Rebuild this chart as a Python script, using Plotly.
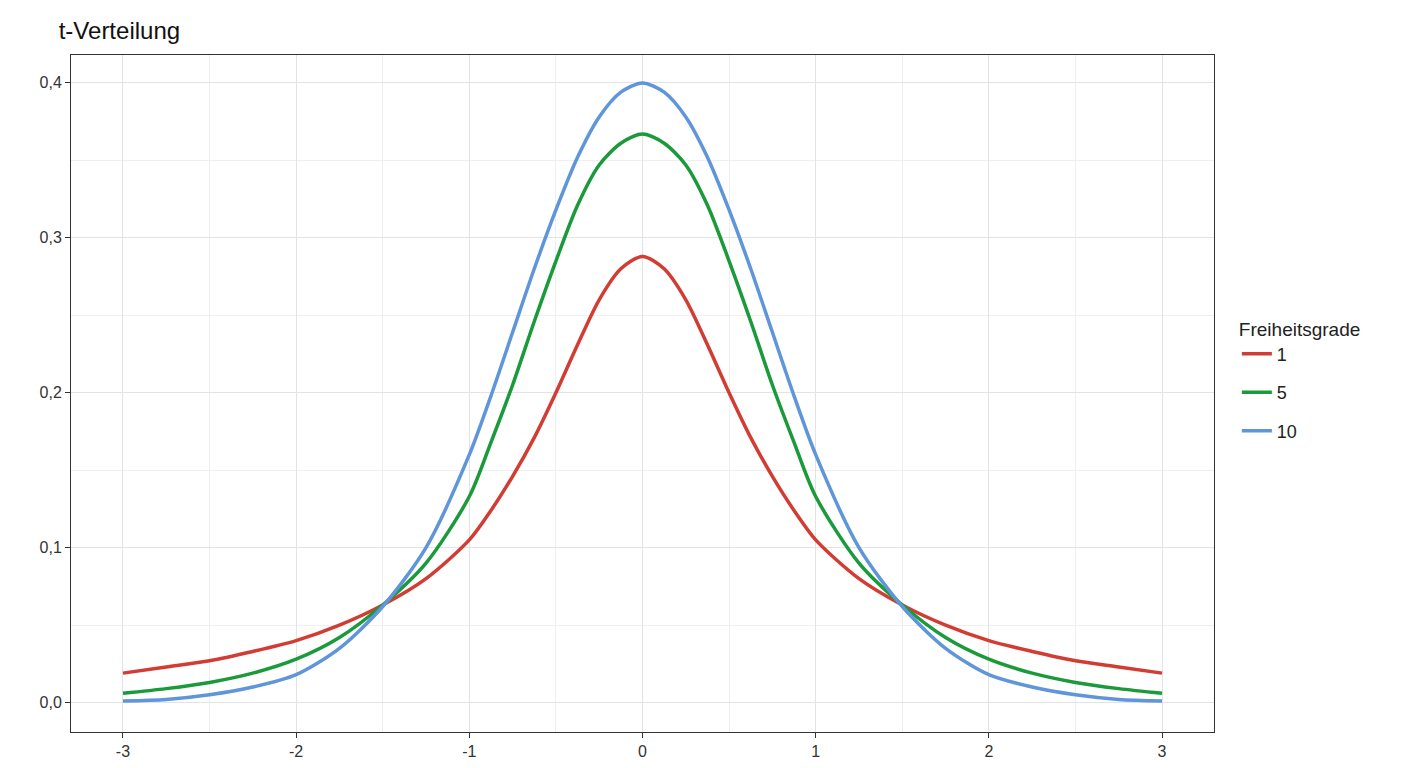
import plotly.graph_objects as go

x = [-3, -2.75, -2.5, -2.25, -2, -1.75, -1.5, -1.25, -1, -0.875, -0.75, -0.625, -0.5, -0.375, -0.25, -0.125, 0,
     0.125, 0.25, 0.375, 0.5, 0.625, 0.75, 0.875, 1, 1.25, 1.5, 1.75, 2, 2.25, 2.5, 2.75, 3]
df1 = [0.019, 0.023, 0.027, 0.033, 0.040, 0.050, 0.063, 0.080, 0.105, 0.124, 0.146, 0.171, 0.200, 0.231, 0.260, 0.280, 0.288,
       0.280, 0.260, 0.231, 0.200, 0.171, 0.146, 0.124, 0.105, 0.080, 0.063, 0.050, 0.040, 0.033, 0.027, 0.023, 0.019]
df5 = [0.006, 0.009, 0.013, 0.019, 0.028, 0.042, 0.063, 0.090, 0.133, 0.168, 0.205, 0.246, 0.285, 0.321, 0.347, 0.361, 0.367,
       0.361, 0.347, 0.321, 0.285, 0.246, 0.205, 0.168, 0.133, 0.090, 0.063, 0.042, 0.028, 0.019, 0.013, 0.009, 0.006]
df10 = [0.001, 0.002, 0.005, 0.010, 0.018, 0.035, 0.062, 0.100, 0.160, 0.198, 0.239, 0.280, 0.318, 0.352, 0.378, 0.394, 0.400,
        0.394, 0.378, 0.352, 0.318, 0.280, 0.239, 0.198, 0.160, 0.100, 0.062, 0.035, 0.018, 0.010, 0.005, 0.002, 0.001]
names = ["1", "5", "10"]
colors = ["#d13c33", "#1a9a3a", "#5f95d9"]
xticks = [-3, -2, -1, 0, 1, 2, 3]
xticklabels = ["-3", "-2", "-1", "0", "1", "2", "3"]

fig = go.Figure()
for n, y, c in zip(names, [df1, df5, df10], colors):
    fig.add_trace(go.Scatter(x=x, y=y, name=n, mode="lines", legendgroup=n,
                             line=dict(color=c, width=3.5, shape="spline", smoothing=0.8)))

axis_common = dict(showline=True, linecolor="#333333", linewidth=1, mirror=True,
                   gridcolor="#e3e3e3", gridwidth=1.2, zeroline=False,
                   ticks="outside", tickcolor="#333333", ticklen=5,
                   tickfont=dict(size=16, color="#333333"))
fig.update_layout(
    width=1408, height=768, plot_bgcolor="white", paper_bgcolor="white",
    font=dict(family="Liberation Sans, Arial", size=16, color="#222"),
    separators=",.",
    title=dict(text="t-Verteilung", x=0.036, xanchor="left", y=0.97, yanchor="middle",
               font=dict(size=24, color="#111")),
    margin=dict(l=63, r=202, t=47, b=44),
    legend=dict(title=dict(text="Freiheitsgrade", font=dict(size=19)), x=1.02, xanchor="left",
                y=0.52, yanchor="middle", font=dict(size=18), tracegroupgap=12),
    xaxis=dict(range=[-3.3, 3.3], tickvals=xticks, ticktext=xticklabels,
               minor=dict(tickvals=[-2.5, -1.5, -0.5, 0.5, 1.5, 2.5], showgrid=True,
                          gridcolor="#efefef", ticks=""), **axis_common),
    yaxis=dict(range=[-0.019, 0.418], tickvals=[0, 0.1, 0.2, 0.3, 0.4], tickformat=".1f",
               minor=dict(tickvals=[0.05, 0.15, 0.25, 0.35], showgrid=True,
                          gridcolor="#efefef", ticks=""), **axis_common),
)
fig.write_html("out.html")
